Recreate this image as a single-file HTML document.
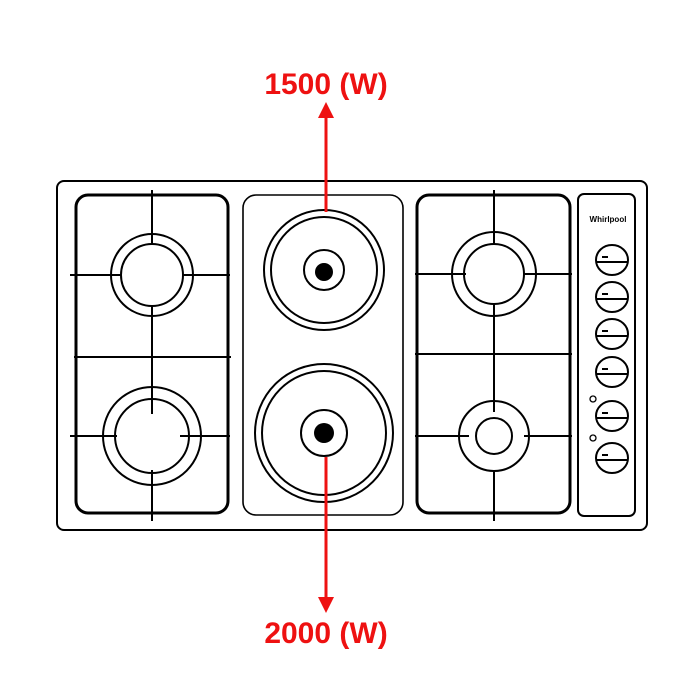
<!DOCTYPE html>
<html><head><style>body{margin:0;background:#fff}svg{display:block}</style></head>
<body>
<svg width="700" height="700" viewBox="0 0 700 700" xmlns="http://www.w3.org/2000/svg">
<g fill="none" stroke="#000">
<rect x="57" y="181" width="590" height="349" rx="7" stroke-width="2"/>
<rect x="76" y="195" width="152" height="318" rx="12" stroke-width="3"/>
<g stroke-width="2">
<circle cx="152" cy="275" r="41"/><circle cx="152" cy="275" r="31"/>
<circle cx="152" cy="436" r="49"/><circle cx="152" cy="436" r="37"/>
<path d="M152 190V245M152 305V414M152 470V521M70 275H121M182 275H230M74 357H231M70 436H117M180 436H230"/>
</g>
<rect x="243" y="195" width="160" height="320" rx="13" stroke-width="1.6"/>
<g stroke-width="2">
<circle cx="324" cy="270" r="60"/><circle cx="324" cy="270" r="53"/><circle cx="324" cy="270" r="20"/>
<circle cx="324" cy="433" r="69"/><circle cx="324" cy="433" r="62"/><circle cx="324" cy="433" r="23"/>
</g>
<circle cx="324" cy="272" r="9" fill="#000" stroke="none"/>
<circle cx="324" cy="433" r="10" fill="#000" stroke="none"/>
<rect x="417" y="195" width="153" height="318" rx="12" stroke-width="3"/>
<g stroke-width="2">
<circle cx="494" cy="274" r="42"/><circle cx="494" cy="274" r="30"/>
<circle cx="494" cy="436" r="35"/><circle cx="494" cy="436" r="18"/>
<path d="M494 190V244M494 303V412M494 470V521M415 274H466M524 274H572M415 354H572M415 436H469M524 436H572"/>
</g>
<rect x="578" y="194" width="57" height="322" rx="6" stroke-width="2"/>
<g stroke-width="2">
<ellipse cx="612" cy="260" rx="16" ry="15"/><path d="M596 262H628"/>
<ellipse cx="612" cy="297" rx="16" ry="15"/><path d="M596 299H628"/>
<ellipse cx="612" cy="334" rx="16" ry="15"/><path d="M596 336H628"/>
<ellipse cx="612" cy="372" rx="16" ry="15"/><path d="M596 374H628"/>
<ellipse cx="612" cy="416" rx="16" ry="15"/><path d="M596 418H628"/>
<ellipse cx="612" cy="458" rx="16" ry="15"/><path d="M596 460H628"/>
<path d="M602 257H608M602 294H608M602 331H608M602 369H608M602 413H608M602 455H608"/>
</g>
<circle cx="593" cy="399" r="3" stroke-width="1.3"/>
<circle cx="593" cy="438" r="3" stroke-width="1.3"/>
</g>
<text x="608" y="222" font-family="Liberation Sans, sans-serif" font-size="8" font-weight="bold" text-anchor="middle">Whirlpool</text>
<g stroke="#ee1111" stroke-width="3"><path d="M326 212V115M326 457V600"/></g>
<path d="M326 102L318 118H334Z" fill="#ee1111"/>
<path d="M326 613L318 597H334Z" fill="#ee1111"/>
<g font-family="Liberation Sans, sans-serif" font-size="30" font-weight="bold" fill="#ee1111" text-anchor="middle">
<text x="326" y="94">1500 (W)</text>
<text x="326" y="643">2000 (W)</text>
</g>
</svg>
</body></html>
